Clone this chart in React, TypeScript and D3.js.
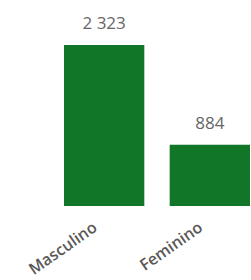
import React, { useRef, useEffect } from "react";
import * as d3 from "d3";

const categories = ["Masculino", "Feminino"];
const values = [2323, 884];
const valueLabels = ["2 323", "884"];

const App = () => {
  const ref = useRef<SVGSVGElement>(null);

  useEffect(() => {
    const svg = d3.select(ref.current);
    svg.selectAll("*").remove();
    const W = 251;
    const H = 280;
    const margin = { top: 45, right: 1, bottom: 74, left: 64 };
    const height = H - margin.top - margin.bottom;

    const x = d3
      .scaleBand()
      .domain(categories)
      .range([margin.left, W - margin.right])
      .paddingInner(0.24)
      .paddingOuter(0);

    const y = d3
      .scaleLinear()
      .domain([0, d3.max(values)!])
      .range([margin.top + height, margin.top]);

    const data = categories.map((c, i) => ({ c, v: values[i], label: valueLabels[i] }));

    // bars
    svg
      .selectAll("rect")
      .data(data)
      .join("rect")
      .attr("x", (d) => x(d.c)!)
      .attr("y", (d) => y(d.v))
      .attr("width", x.bandwidth())
      .attr("height", (d) => y(0) - y(d.v))
      .attr("fill", "#127629");

    // value labels
    svg
      .selectAll("text.val")
      .data(data)
      .join("text")
      .attr("class", "val")
      .attr("x", (d) => x(d.c)! + x.bandwidth() / 2)
      .attr("y", (d) => y(d.v) - 16)
      .attr("text-anchor", "middle")
      .attr("font-family", "'Open Sans', sans-serif")
      .attr("font-size", 17)
      .attr("fill", "#666666")
      .text((d) => d.label);

    // category axis (rotated)
    const xAxis = d3.axisBottom(x).tickSize(0).tickPadding(0);
    svg
      .append("g")
      .attr("transform", `translate(0,${y(0)})`)
      .call(xAxis)
      .call((g) => g.select(".domain").remove())
      .selectAll("text")
      .attr("font-family", "'Open Sans', sans-serif")
      .attr("font-size", 16)
      .attr("font-weight", 600)
      .attr("fill", "#5a5856")
      .attr("text-anchor", "end")
      .attr("dy", 0)
      .attr("y", 0)
      .attr("transform", "translate(-6,24) rotate(-35)");
  }, []);

  return (
    <svg
      ref={ref}
      width={251}
      height={280}
      style={{ position: "absolute", left: 0, top: 0, display: "block" }}
    />
  );
};

export default App;
